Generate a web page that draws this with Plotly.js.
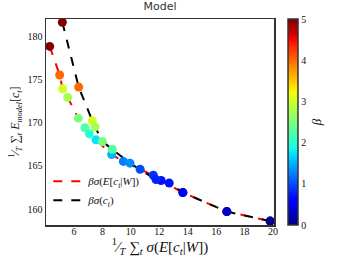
<!DOCTYPE html>
<html>
<head>
<meta charset="utf-8">
<script src="https://cdn.plot.ly/plotly-3.0.1.min.js"></script>
<style>
html,body{margin:0;padding:0;background:#fff;}
#chart{width:338px;height:263px;}
</style>
</head>
<body>
<div id="chart"></div>
<script>
// Data
const redX   = [4.29, 4.99, 5.20, 5.56, 6.30, 6.77, 7.08, 7.55, 8.65, 9.47, 10.65, 11.58, 12.13, 13.66, 16.75, 19.80];
const redY   = [178.8, 175.5, 173.9, 172.9, 170.5, 169.4, 168.7, 168.0, 166.3, 165.5, 164.6, 163.9, 163.3, 161.9, 159.7, 158.6];
const redBeta= [5.0, 4.0, 3.0, 2.75, 2.5, 2.25, 2.0, 1.75, 1.5, 1.25, 1.0, 0.85, 0.7, 0.5, 0.3, 0.05];

const blackX   = [5.18, 6.33, 7.29, 7.48, 8.00, 8.70, 9.94, 11.77, 12.70, 13.66, 16.75, 19.80];
const blackY   = [181.6, 174.1, 170.2, 169.5, 167.8, 166.9, 165.3, 163.4, 163.0, 161.9, 159.7, 158.6];
const blackBeta= [5.0, 4.0, 3.0, 2.75, 2.5, 2.25, 1.3, 0.8, 0.7, 0.5, 0.3, 0.05];

const betaTicks = [0, 1, 2, 3, 4, 5];
const xTicks = [6, 8, 10, 12, 14, 16, 18, 20];
const yTicks = [160, 165, 170, 175, 180];

// matplotlib "jet" colormap
function seg(data, t){
  for(let i=1;i<data.length;i++){
    if(t<=data[i][0]){
      const a=data[i-1], b=data[i];
      return a[1]+(b[1]-a[1])*(t-a[0])/(b[0]-a[0]);
    }
  }
  return data[data.length-1][1];
}
const R=[[0,0],[0.35,0],[0.66,1],[0.89,1],[1,0.5]];
const G=[[0,0],[0.125,0],[0.375,1],[0.64,1],[0.91,0],[1,0]];
const B=[[0,0.5],[0.11,1],[0.34,1],[0.65,0],[1,0]];
const jet=[];
for(let i=0;i<=50;i++){
  const t=i/50;
  jet.push([t,'rgb('+Math.round(255*seg(R,t))+','+Math.round(255*seg(G,t))+','+Math.round(255*seg(B,t))+')']);
}

const serif = 'Liberation Serif, DejaVu Serif, serif';

const traces = [
  {x: redX, y: redY, mode:'lines', name:'<i>βσ</i>(<i>E</i>[<i>c<sub>t</sub></i>|<i>W</i>])',
   line:{color:'#ff0000', width:2, dash:'dash'}, hoverinfo:'skip'},
  {x: blackX, y: blackY, mode:'lines', name:'<i>βσ</i>(<i>c<sub>t</sub></i>)',
   line:{color:'#000000', width:2, dash:'dash'}, hoverinfo:'skip'},
  {x: redX, y: redY, mode:'markers', showlegend:false,
   marker:{size:9, color: redBeta, colorscale: jet, cmin:0, cmax:5,
     colorbar:{x:1.061, xanchor:'left', xpad:0, ypad:0, y:0.5, yanchor:'middle', len:1, lenmode:'fraction',
       thickness:10, outlinewidth:1.5, outlinecolor:'#333',
       tickvals: betaTicks, ticks:'', tickfont:{family:serif, size:10, color:'#111'},
       title:{text:'<i>β</i>', side:'right', font:{family:serif, size:13, color:'#111'}}}}},
  {x: blackX, y: blackY, mode:'markers', showlegend:false,
   marker:{size:9, color: blackBeta, colorscale: jet, cmin:0, cmax:5, showscale:false}}
];

const layout = {
  width:338, height:263,
  margin:{l:46, r:64, t:19, b:38, pad:0},
  paper_bgcolor:'#fff', plot_bgcolor:'#fff',
  showlegend:true,
  title:{text:'Model', x:0.5, xref:'paper', y:0.975, yanchor:'middle',
    font:{family:'DejaVu Sans, sans-serif', size:11, color:'#333'}},
  xaxis:{range:[4.03, 20.07], tickvals:xTicks, showgrid:false, zeroline:false,
    showline:true, mirror:true, linecolor:'#333', linewidth:1.5, ticks:'', ticklabelstandoff:-4,
    tickfont:{family:serif, size:10, color:'#111'},
    title:{text:'<sup>1</sup>⁄<sub><i>T</i></sub> ∑<sub><i>t</i></sub> <i>σ</i>(<i>E</i>[<i>c<sub>t</sub></i>|<i>W</i>])', standoff:0,
      font:{family:serif, size:15, color:'#111'}}},
  yaxis:{range:[158.15, 181.97], tickvals:yTicks, showgrid:false, zeroline:false,
    showline:true, mirror:true, linecolor:'#333', linewidth:1.5, ticks:'',
    tickfont:{family:serif, size:10, color:'#111'},
    title:{text:'<sup>1</sup>⁄<sub><i>T</i></sub> ∑<sub><i>t</i></sub> <i>E<sub>model</sub></i>[<i>c<sub>t</sub></i>]', standoff:5,
      font:{family:serif, size:12, color:'#111'}}},
  legend:{x:0.01, y:0.05, xanchor:'left', yanchor:'bottom', bgcolor:'rgba(0,0,0,0)', borderwidth:0,
    font:{family:serif, size:11, color:'#111'}, tracegroupgap:0}
};

Plotly.newPlot('chart', traces, layout, {displayModeBar:false, staticPlot:true});
</script>
</body>
</html>
